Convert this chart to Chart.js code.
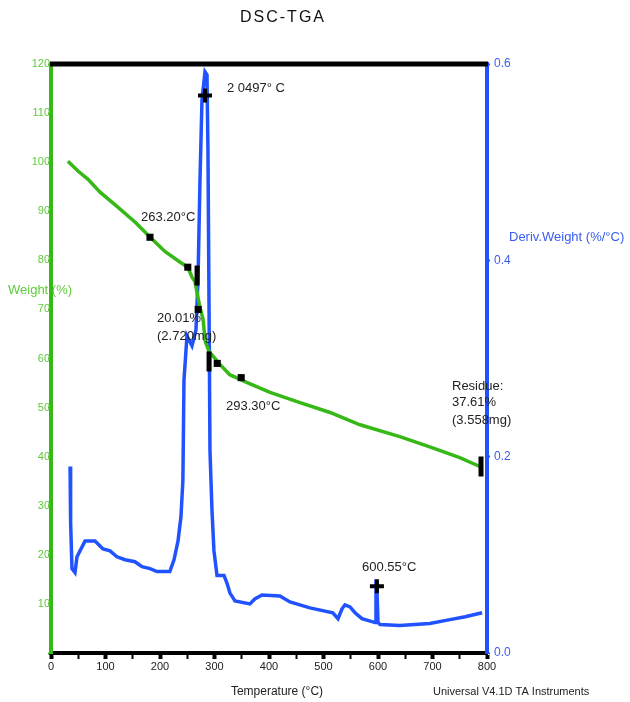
<!DOCTYPE html>
<html>
<head>
<meta charset="utf-8">
<script src="https://cdn.jsdelivr.net/npm/chart.js@4/dist/chart.umd.min.js"></script>
<style>
  html,body{margin:0;padding:0;background:#fff;}
  #wrap{width:630px;height:702px;position:relative;}
</style>
</head>
<body>
<div id="wrap"><canvas id="c" width="630" height="702"></canvas></div>
<script>
// ---- data ----
const xTickLabels = [0, 100, 200, 300, 400, 500, 600, 700, 800];
const weightTickLabels = [10, 20, 30, 40, 50, 60, 70, 80, 90, 100, 110, 120];
const derivTickLabels = [0.0, 0.2, 0.4, 0.6];

const weightTemp = [31, 49.5, 68, 90, 121, 154, 182, 209, 237, 251, 259, 264, 273, 279, 283, 290, 295, 310, 328, 360, 402, 426, 457, 512, 567, 640, 695, 750, 787];
const weightPct  = [100.2, 98.2, 96.5, 93.9, 91.0, 87.8, 84.7, 81.8, 79.6, 78.6, 76.5, 75.7, 70.6, 68.0, 63.5, 61.4, 60.8, 58.8, 56.7, 55.1, 53.1, 52.2, 51.0, 49.0, 46.5, 44.1, 42.0, 39.8, 38.0];

const derivTemp = [35, 36, 38.5, 44, 47.7, 62.4, 80.7, 95.4, 108.3, 121, 135.8, 154, 167, 181.7, 194.5, 218, 225.7, 233, 238.5, 242, 244, 249.5, 258.7, 266, 269.7, 273.4, 277, 282.6, 286.2, 288, 289.9, 291.7, 295.4, 299, 304.6, 317.4, 323, 328.4, 337.6, 365, 374, 387, 420, 438.5, 475, 517, 526.6, 534, 539.4, 548.6, 557.8, 570.6, 589, 594.5, 596.3, 598, 600, 603.7, 640, 695, 732, 760, 791];
const derivVal  = [0.190, 0.133, 0.086, 0.082, 0.098, 0.114, 0.114, 0.106, 0.104, 0.098, 0.095, 0.093, 0.088, 0.086, 0.083, 0.083, 0.095, 0.114, 0.139, 0.176, 0.278, 0.323, 0.313, 0.329, 0.380, 0.482, 0.563, 0.592, 0.589, 0.512, 0.359, 0.206, 0.145, 0.104, 0.079, 0.079, 0.071, 0.061, 0.053, 0.050, 0.055, 0.059, 0.058, 0.052, 0.046, 0.041, 0.035, 0.045, 0.049, 0.047, 0.041, 0.035, 0.032, 0.031, 0.068, 0.066, 0.031, 0.029, 0.028, 0.030, 0.034, 0.037, 0.041];

// analysis markers
const barMarkTemp = [268, 290, 789];
const barMarkPct  = [76.9, 59.4, 38.0];
const blockMarkTemp = [181.6, 349, 251, 270, 305];
const blockMarkPct  = [84.7, 56.1, 78.6, 70.0, 59.0];
const crossMarkTemp = [282.6, 598];
const crossMarkVal  = [0.568, 0.068];

const annotationTexts = ["2 0497° C", "263.20°C", "20.01%", "(2.720mg)", "293.30°C", "Residue:", "37.61%", "(3.558mg)", "600.55°C"];

const toXY = (xs, ys) => xs.map((x, i) => ({x: x, y: ys[i]}));

const GREEN = '#36b816';
const GREEN_T = '#5fcb3c';
const BLUE = '#2152ff';
const BLUE_T = '#3a5cf0';
const FONT = "'Liberation Sans', Arial, sans-serif";

const overlay = {
  id: 'overlay',
  afterDraw(chart) {
    const {ctx, chartArea: a} = chart;
    ctx.save();
    ctx.strokeStyle = '#000';
    ctx.lineWidth = 5;
    ctx.beginPath();
    ctx.moveTo(a.left - 1, a.top);
    ctx.lineTo(a.right + 1, a.top);
    ctx.stroke();

    ctx.textBaseline = 'middle';
    // title
    ctx.fillStyle = '#111';
    ctx.font = '16px ' + FONT;
    ctx.textAlign = 'center';
    try { ctx.letterSpacing = '2px'; } catch (e) {}
    ctx.fillText('DSC-TGA', 283, 18);
    try { ctx.letterSpacing = '0px'; } catch (e) {}

    // axis titles
    ctx.textAlign = 'left';
    ctx.font = '13px ' + FONT;
    ctx.fillStyle = GREEN_T;
    ctx.fillText('Weight (%)', 8, 290);
    ctx.fillStyle = BLUE_T;
    ctx.fillText('Deriv.Weight (%/°C)', 509, 237);
    ctx.fillStyle = '#222';
    ctx.font = '12px ' + FONT;
    ctx.textAlign = 'center';
    ctx.fillText('Temperature (°C)', 277, 692);
    ctx.textAlign = 'left';
    ctx.font = '11px ' + FONT;
    ctx.fillText('Universal V4.1D TA Instruments', 433, 692);

    // annotations
    ctx.font = '13px ' + FONT;
    ctx.fillStyle = '#222';
    const pos = [[227, 88], [141, 217], [157, 318], [157, 336], [226, 406], [452, 386], [452, 402], [452, 420], [362, 567]];
    annotationTexts.forEach((t, i) => ctx.fillText(t, pos[i][0], pos[i][1]));
    ctx.restore();
  }
};

new Chart(document.getElementById('c'), {
  type: 'line',
  data: {
    datasets: [
      { label: 'Deriv. Weight', data: toXY(derivTemp, derivVal), yAxisID: 'yD',
        borderColor: BLUE, borderWidth: 3.5, pointRadius: 0, tension: 0, order: 5 },
      { label: 'Weight', data: toXY(weightTemp, weightPct), yAxisID: 'yW',
        borderColor: GREEN, borderWidth: 3.5, pointRadius: 0, tension: 0, order: 4 },
      { label: 'bars', type: 'scatter', data: toXY(barMarkTemp, barMarkPct), yAxisID: 'yW',
        pointStyle: 'line', rotation: 90, radius: 10, borderWidth: 5, borderColor: '#000', backgroundColor: '#000', order: 1 },
      { label: 'blocks', type: 'scatter', data: toXY(blockMarkTemp, blockMarkPct), yAxisID: 'yW',
        pointStyle: 'rect', radius: 5, borderWidth: 0, borderColor: '#000', backgroundColor: '#000', order: 1 },
      { label: 'crosses', type: 'scatter', data: toXY(crossMarkTemp, crossMarkVal), yAxisID: 'yD',
        pointStyle: 'cross', radius: 7, borderWidth: 4, borderColor: '#000', backgroundColor: '#000', order: 1 }
    ]
  },
  options: {
    responsive: false,
    animation: false,
    devicePixelRatio: 1,
    layout: { padding: { top: 64, left: 0, right: 0, bottom: 0 } },
    plugins: { legend: { display: false }, tooltip: { enabled: false }, title: { display: false } },
    elements: { line: { borderCapStyle: 'butt' } },
    scales: {
      x: {
        type: 'linear', position: 'bottom', min: 0, max: 800,
        afterFit: s => { s.height = 49; },
        border: { display: true, color: '#000', width: 4 },
        grid: { drawOnChartArea: false, drawTicks: true, tickLength: 6,
                tickColor: '#000', tickWidth: c => (xTickLabels.includes(c.tick.value) ? 4 : 2) },
        ticks: { stepSize: 50, autoSkip: false, maxRotation: 0, color: '#222', padding: 1,
                 font: { family: FONT, size: 11 },
                 callback: v => (xTickLabels.includes(v) ? String(v) : '') }
      },
      yW: {
        type: 'linear', position: 'left', min: 0, max: 120,
        afterFit: s => { s.width = 51; },
        border: { display: true, color: GREEN, width: 4 },
        grid: { drawOnChartArea: false, tickLength: 3, tickColor: GREEN, tickWidth: 2 },
        ticks: { stepSize: 10, color: GREEN_T, padding: -2, font: { family: FONT, size: 11 },
                 callback: v => (weightTickLabels.includes(v) ? String(v) : '') }
      },
      yD: {
        type: 'linear', position: 'right', min: 0, max: 0.6,
        afterFit: s => { s.width = 143; },
        border: { display: true, color: BLUE, width: 4 },
        grid: { drawOnChartArea: false, tickLength: 3, tickColor: BLUE, tickWidth: 2 },
        ticks: { stepSize: 0.2, color: BLUE_T, padding: 4, font: { family: FONT, size: 12 },
                 callback: v => {
                   const r = Math.round(v * 10) / 10;
                   return derivTickLabels.some(d => Math.abs(d - r) < 1e-9) ? r.toFixed(1) : '';
                 } }
      }
    }
  },
  plugins: [overlay]
});
</script>
</body>
</html>
